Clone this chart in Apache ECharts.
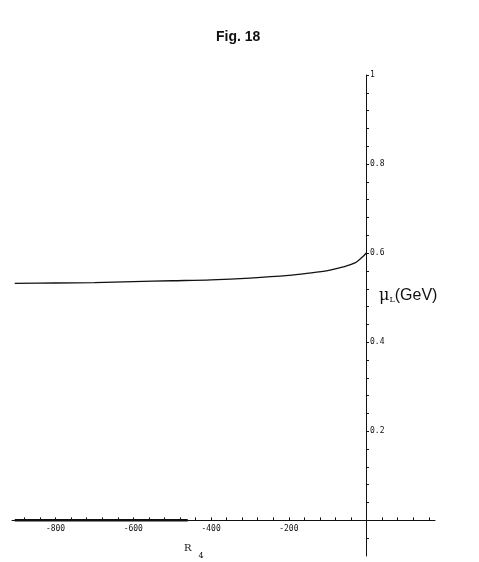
<!DOCTYPE html>
<html>
<head>
<meta charset="utf-8">
<script src="https://cdn.jsdelivr.net/npm/echarts@6/dist/echarts.min.js"></script>
<style>
  html, body { margin: 0; padding: 0; background: #fff; }
  #chart { width: 479px; height: 562px; }
</style>
</head>
<body>
<div id="chart"></div>
<script>
  // mu_L(GeV) as a function of R_4
  const rValues = [-905, -800, -700, -600, -500, -400, -300, -200, -150, -100, -60, -30, -10, 0];
  const muValues = [0.532, 0.533, 0.534, 0.536, 0.538, 0.540, 0.544, 0.550, 0.555, 0.561, 0.569, 0.578, 0.592, 0.601];
  // thick segment lying on the R axis
  const zeroR = [-905, -460];
  const zeroMu = [0, 0];

  const xLabels = [-800, -600, -400, -200];
  const yLabels = [0.2, 0.4, 0.6, 0.8, 1];
  const xTicks = [];
  for (let v = -880; v <= 160; v += 40) xTicks.push(v);
  const yTicks = [];
  for (let i = -1; i <= 25; i++) yTicks.push(+(i * 0.04).toFixed(2));

  const ink = '#111';
  const chart = echarts.init(document.getElementById('chart'));

  // grid spans 12..435 horizontally, 75..556 vertically;
  // axes are moved onto the zero lines with offsets
  chart.setOption({
    backgroundColor: '#fff',
    animation: false,
    title: {
      text: 'Fig. 18',
      left: 211,
      top: 25,
      textStyle: { fontFamily: 'Liberation Sans', fontWeight: 'bold', fontSize: 14, color: ink }
    },
    grid: { left: 12, right: 44, top: 75, bottom: 6, outerBoundsMode: 'none' },
    xAxis: {
      type: 'value',
      position: 'bottom',
      offset: -35.6,
      min: -912,
      max: 176,
      splitLine: { show: false },
      axisLine: { onZero: false, lineStyle: { color: ink, width: 1 } },
      axisTick: { show: true, inside: true, length: 3, customValues: xTicks, lineStyle: { color: ink } },
      axisLabel: {
        customValues: xLabels,
        margin: 5,
        fontSize: 8,
        fontFamily: 'DejaVu Sans Mono',
        color: ink
      }
    },
    yAxis: {
      type: 'value',
      position: 'left',
      offset: -354,
      min: -0.08,
      max: 1,
      splitLine: { show: false },
      axisLine: { onZero: false, lineStyle: { color: ink, width: 1 } },
      axisTick: { show: true, inside: true, length: 3, customValues: yTicks, lineStyle: { color: ink } },
      axisLabel: {
        inside: true,
        customValues: yLabels,
        margin: 4,
        fontSize: 8,
        fontFamily: 'DejaVu Sans Mono',
        color: ink,
        formatter: v => String(v)
      }
    },
    series: [
      {
        type: 'line',
        data: rValues.map((r, i) => [r, muValues[i]]),
        smooth: 0.3,
        showSymbol: false,
        lineStyle: { color: ink, width: 1.3 }
      },
      {
        type: 'line',
        data: zeroR.map((r, i) => [r, zeroMu[i]]),
        showSymbol: false,
        lineStyle: { color: ink, width: 2.5 }
      }
    ],
    graphic: [
      {
        type: 'text',
        left: 379,
        top: 288,
        style: {
          text: '{m|μ}{s|L}{g|(GeV)}',
          rich: {
            m: { fontFamily: 'DejaVu Serif', fontSize: 16, fill: ink },
            s: { fontFamily: 'DejaVu Serif', fontSize: 8, fill: ink, verticalAlign: 'bottom', padding: [7, 0, 0, 0] },
            g: { fontFamily: 'Liberation Sans', fontSize: 16, fill: ink }
          }
        }
      },
      {
        type: 'text',
        left: 184,
        top: 543,
        style: {
          text: '{r|R}{s|4}',
          rich: {
            r: { fontFamily: 'DejaVu Serif', fontSize: 10, fill: ink },
            s: { fontFamily: 'DejaVu Serif', fontSize: 8, fill: ink, padding: [15, 0, 0, 7] }
          }
        }
      }
    ]
  });
</script>
</body>
</html>
